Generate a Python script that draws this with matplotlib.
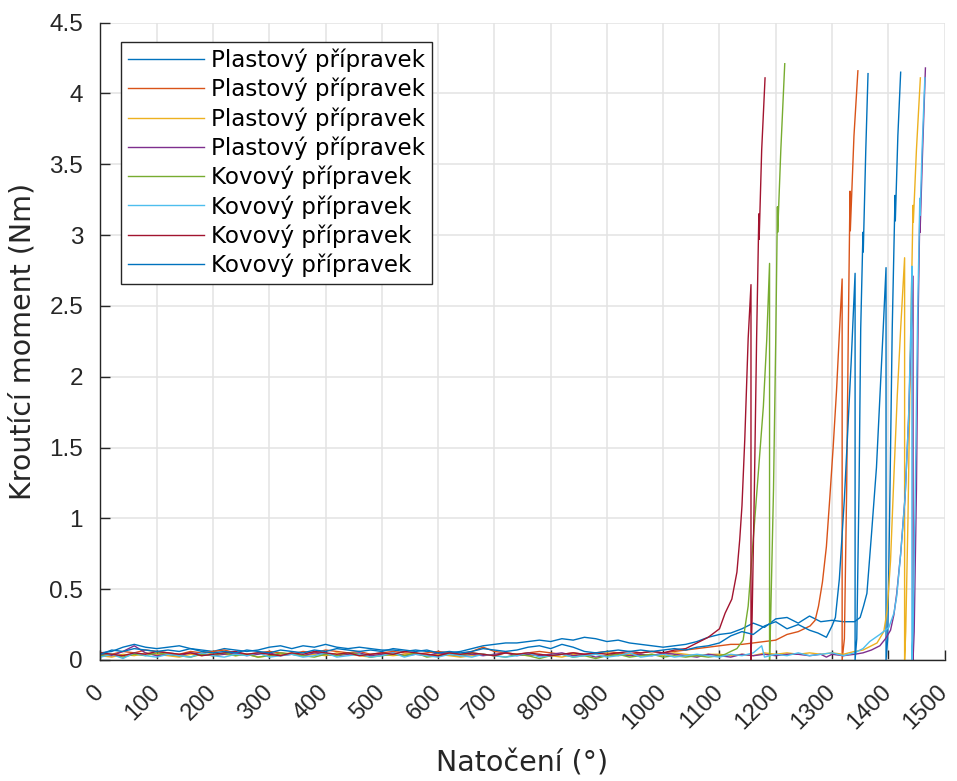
import matplotlib
matplotlib.use("Agg")
import matplotlib.pyplot as plt

# ---------------- data ----------------
legend_labels = ["Plastový přípravek", "Plastový přípravek", "Plastový přípravek", "Plastový přípravek",
                 "Kovový přípravek", "Kovový přípravek", "Kovový přípravek", "Kovový přípravek"]
series_colors = ["#0072BD", "#D95319", "#EDB120", "#7E2F8E", "#77AC30", "#4DBEEE", "#A2142F", "#0072BD"]

base_angle = [0, 20, 40, 60, 80, 100, 120, 140,
              160, 180, 200, 220, 240, 260, 280, 300,
              320, 340, 360, 380, 400, 420, 440, 460,
              480, 500, 520, 540, 560, 580, 600, 620,
              640, 660, 680, 700, 720, 740, 760, 780,
              800, 820, 840, 860, 880, 900, 920, 940,
              960, 980, 1000, 1020, 1040, 1060, 1080, 1100]

# Plastový 1 (blue)
p1_base = [0.05, 0.06, 0.09, 0.11, 0.09, 0.08, 0.09, 0.10,
           0.08, 0.07, 0.06, 0.08, 0.07, 0.06, 0.07, 0.09,
           0.10, 0.08, 0.10, 0.09, 0.11, 0.09, 0.08, 0.09,
           0.08, 0.07, 0.07, 0.06, 0.07, 0.06, 0.05, 0.05,
           0.06, 0.08, 0.10, 0.11, 0.12, 0.12, 0.13, 0.14,
           0.13, 0.15, 0.14, 0.16, 0.15, 0.13, 0.14, 0.12,
           0.11, 0.10, 0.09, 0.10, 0.11, 0.13, 0.16, 0.18]
p1_tail_x = [1120, 1140, 1160, 1180, 1200, 1220, 1240, 1260, 1280, 1300, 1320, 1340, 1350, 1356,
             1362, 1370, 1379, 1385, 1391, 1396, 1396, 1399, 1403, 1407, 1412, 1412.5, 1417, 1422]
p1_tail_y = [0.19, 0.22, 0.26, 0.23, 0.29, 0.30, 0.26, 0.31, 0.27, 0.28, 0.27, 0.27, 0.30, 0.38,
             0.47, 0.88, 1.36, 1.85, 2.34, 2.77, 0.0, 0.15, 1.2, 2.34, 3.28, 3.10, 3.7, 4.15]

# Plastový 2 (orange)
p2_base = [0.05, 0.04, 0.06, 0.05, 0.07, 0.06, 0.05, 0.04,
           0.06, 0.05, 0.06, 0.07, 0.05, 0.04, 0.05, 0.06,
           0.05, 0.04, 0.06, 0.05, 0.07, 0.06, 0.05, 0.06,
           0.04, 0.05, 0.06, 0.05, 0.04, 0.05, 0.06, 0.05,
           0.04, 0.06, 0.09, 0.06, 0.05, 0.04, 0.05, 0.06,
           0.05, 0.04, 0.05, 0.04, 0.05, 0.06, 0.05, 0.04,
           0.05, 0.06, 0.05, 0.06, 0.07, 0.08, 0.09, 0.10]
p2_tail_x = [1120, 1140, 1160, 1180, 1200, 1220, 1240, 1261, 1270, 1276, 1283, 1290, 1296, 1302,
             1308, 1313, 1318, 1318, 1322, 1326, 1329, 1332, 1332.5, 1339, 1346]
p2_tail_y = [0.11, 0.11, 0.12, 0.13, 0.14, 0.18, 0.20, 0.24, 0.28, 0.38, 0.55, 0.80, 1.14, 1.50,
             1.90, 2.30, 2.69, 0.0, 0.15, 1.2, 2.34, 3.31, 3.03, 3.7, 4.16]

# Plastový 3 (yellow)
p3_base = [0.03, 0.02, 0.04, 0.03, 0.05, 0.04, 0.03, 0.02,
           0.04, 0.03, 0.05, 0.04, 0.03, 0.04, 0.02, 0.03,
           0.04, 0.05, 0.03, 0.04, 0.03, 0.05, 0.04, 0.03,
           0.02, 0.04, 0.03, 0.04, 0.05, 0.03, 0.04, 0.03,
           0.02, 0.03, 0.04, 0.03, 0.05, 0.04, 0.03, 0.04,
           0.03, 0.02, 0.04, 0.03, 0.04, 0.05, 0.03, 0.04,
           0.03, 0.04, 0.03, 0.05, 0.04, 0.03, 0.04, 0.04]
p3_tail_x = [1120, 1140, 1160, 1180, 1200, 1220, 1240, 1260, 1280, 1300, 1320, 1340, 1355, 1370,
             1380, 1392, 1398, 1404, 1410, 1416, 1422, 1429, 1429, 1431, 1435, 1440, 1444, 1444.5,
             1450, 1457]
p3_tail_y = [0.03, 0.04, 0.03, 0.05, 0.04, 0.05, 0.04, 0.05, 0.04, 0.05, 0.04, 0.06, 0.07, 0.10,
             0.12, 0.20, 0.35, 0.70, 1.30, 1.87, 2.34, 2.84, 0.0, 0.2, 1.0, 2.34, 3.21, 3.09,
             3.6, 4.11]

# Plastový 4 (purple)
p4_base = [0.04, 0.03, 0.06, 0.10, 0.05, 0.03, 0.04, 0.03,
           0.05, 0.04, 0.03, 0.04, 0.05, 0.03, 0.04, 0.05,
           0.03, 0.04, 0.03, 0.05, 0.04, 0.03, 0.04, 0.05,
           0.03, 0.04, 0.05, 0.03, 0.04, 0.03, 0.05, 0.04,
           0.03, 0.04, 0.03, 0.04, 0.05, 0.03, 0.04, 0.03,
           0.04, 0.05, 0.03, 0.04, 0.02, 0.03, 0.04, 0.03,
           0.04, 0.03, 0.05, 0.04, 0.03, 0.02, 0.04, 0.03]
p4_tail_x = [1120, 1140, 1160, 1180, 1200, 1220, 1240, 1260, 1280, 1290, 1300, 1320, 1340, 1355,
             1370, 1385, 1395, 1404, 1410, 1415, 1422, 1430, 1436, 1441, 1444, 1444, 1446, 1450,
             1453, 1456, 1456.5, 1461, 1466]
p4_tail_y = [0.02, 0.04, 0.03, 0.04, 0.03, 0.04, 0.04, 0.03, 0.04, 0.02, 0.04, 0.03, 0.04, 0.05,
             0.07, 0.10, 0.15, 0.21, 0.32, 0.47, 0.75, 1.16, 1.70, 2.34, 2.71, 0.0, 0.2, 1.2,
             2.4, 3.14, 3.02, 3.6, 4.18]

# Kovový 1 (green)
k1_base = [0.03, 0.04, 0.02, 0.04, 0.03, 0.05, 0.04, 0.03,
           0.02, 0.04, 0.03, 0.05, 0.03, 0.04, 0.02, 0.03,
           0.05, 0.04, 0.03, 0.02, 0.04, 0.03, 0.05, 0.04,
           0.02, 0.03, 0.04, 0.03, 0.05, 0.02, 0.03, 0.04,
           0.03, 0.05, 0.04, 0.03, 0.02, 0.04, 0.03, 0.01,
           0.03, 0.04, 0.02, 0.03, 0.01, 0.03, 0.04, 0.02,
           0.03, 0.04, 0.02, 0.03, 0.02, 0.03, 0.02, 0.03]
k1_tail_x = [1110, 1120, 1131, 1142, 1151, 1160, 1169, 1178, 1184, 1189, 1189, 1191, 1196, 1200,
             1203, 1203.5, 1209, 1216]
k1_tail_y = [0.04, 0.06, 0.08, 0.14, 0.38, 0.85, 1.32, 1.79, 2.26, 2.80, 0.0, 0.3, 1.2, 2.26,
             3.20, 3.02, 3.6, 4.21]

# Kovový 2 (light blue)
k2_base = [0.02, 0.04, 0.01, 0.05, 0.03, 0.02, 0.04, 0.03,
           0.02, 0.05, 0.03, 0.02, 0.04, 0.03, 0.05, 0.02,
           0.03, 0.04, 0.02, 0.03, 0.05, 0.02, 0.03, 0.04,
           0.02, 0.03, 0.05, 0.02, 0.04, 0.03, 0.02, 0.04,
           0.03, 0.02, 0.04, 0.03, 0.02, 0.03, 0.05, 0.02,
           0.03, 0.04, 0.02, 0.03, 0.04, 0.02, 0.03, 0.05,
           0.02, 0.03, 0.04, 0.02, 0.03, 0.04, 0.03, 0.02]
k2_tail_x = [1120, 1140, 1160, 1175, 1180, 1200, 1220, 1240, 1260, 1280, 1300, 1320, 1340, 1355,
             1367, 1385, 1401, 1410, 1415, 1422, 1430, 1436, 1440, 1442, 1442, 1444, 1448, 1452,
             1456, 1456.5, 1460, 1465]
k2_tail_y = [0.04, 0.03, 0.05, 0.10, 0.02, 0.04, 0.03, 0.05, 0.03, 0.04, 0.05, 0.03, 0.05, 0.08,
             0.13, 0.18, 0.23, 0.33, 0.45, 0.75, 1.16, 1.70, 2.34, 2.78, 0.0, 0.2, 1.2, 2.4,
             3.26, 3.14, 3.6, 4.11]

# Kovový 3 (dark red)
k3_base = [0.05, 0.04, 0.03, 0.05, 0.04, 0.06, 0.05, 0.04,
           0.05, 0.03, 0.04, 0.05, 0.06, 0.04, 0.05, 0.04,
           0.03, 0.05, 0.04, 0.06, 0.05, 0.04, 0.05, 0.03,
           0.04, 0.05, 0.04, 0.06, 0.05, 0.04, 0.03, 0.05,
           0.04, 0.05, 0.04, 0.03, 0.05, 0.04, 0.05, 0.04,
           0.03, 0.04, 0.05, 0.04, 0.05, 0.04, 0.05, 0.06,
           0.05, 0.06, 0.05, 0.07, 0.08, 0.12, 0.16, 0.22]
k3_tail_x = [1110, 1122, 1131, 1136, 1140, 1145, 1151, 1156, 1156, 1158, 1162, 1166, 1170, 1170.5,
             1175, 1181]
k3_tail_y = [0.33, 0.43, 0.62, 0.85, 1.09, 1.56, 2.27, 2.65, 0.0, 0.3, 1.2, 2.27, 3.15, 2.97,
             3.6, 4.11]

# Kovový 4 (blue)
k4_base = [0.04, 0.07, 0.06, 0.08, 0.07, 0.06, 0.07, 0.06,
           0.08, 0.06, 0.05, 0.06, 0.05, 0.07, 0.06, 0.05,
           0.07, 0.06, 0.05, 0.07, 0.06, 0.08, 0.07, 0.06,
           0.07, 0.06, 0.08, 0.07, 0.06, 0.07, 0.05, 0.06,
           0.05, 0.06, 0.08, 0.07, 0.06, 0.07, 0.09, 0.10,
           0.08, 0.11, 0.09, 0.06, 0.05, 0.06, 0.07, 0.06,
           0.07, 0.06, 0.07, 0.08, 0.07, 0.09, 0.10, 0.12]
k4_tail_x = [1120, 1140, 1160, 1180, 1200, 1220, 1240, 1260, 1275, 1290, 1300, 1306, 1313, 1322,
             1328, 1334, 1341, 1341, 1344, 1348, 1351, 1355, 1355.5, 1360, 1364]
k4_tail_y = [0.17, 0.20, 0.18, 0.24, 0.27, 0.22, 0.25, 0.21, 0.19, 0.16, 0.24, 0.30, 0.57, 1.14,
             1.62, 2.10, 2.73, 0.0, 0.15, 1.2, 2.34, 3.02, 2.88, 3.6, 4.14]

x_ticks = [0, 100, 200, 300, 400, 500, 600, 700, 800, 900, 1000, 1100, 1200, 1300, 1400, 1500]
x_tick_labels = ["0", "100", "200", "300", "400", "500", "600", "700", "800", "900", "1000",
                 "1100", "1200", "1300", "1400", "1500"]
y_ticks = [0, 0.5, 1, 1.5, 2, 2.5, 3, 3.5, 4, 4.5]
y_tick_labels = ["0", "0.5", "1", "1.5", "2", "2.5", "3", "3.5", "4", "4.5"]
x_label = "Natočení (°)"
y_label = "Kroutící moment (Nm)"

# ---------------- plot ----------------
series = [
    (p1_base, p1_tail_x, p1_tail_y),
    (p2_base, p2_tail_x, p2_tail_y),
    (p3_base, p3_tail_x, p3_tail_y),
    (p4_base, p4_tail_x, p4_tail_y),
    (k1_base, k1_tail_x, k1_tail_y),
    (k2_base, k2_tail_x, k2_tail_y),
    (k3_base, k3_tail_x, k3_tail_y),
    (k4_base, k4_tail_x, k4_tail_y),
]

plt.rcParams['font.family'] = ['DejaVu Sans']
fig = plt.figure(figsize=(9.57, 7.81), dpi=100)
ax = fig.add_axes([0.105, 0.155, 0.882, 0.816])

for (base, tx, ty), col, lab in zip(series, series_colors, legend_labels):
    ax.plot(base_angle + tx, base + ty, color=col, lw=1.0, label=lab)

ax.set_xlim(0, 1500)
ax.set_ylim(0, 4.5)
ax.set_xticks(x_ticks)
ax.set_yticks(y_ticks)
ax.set_xticklabels(x_tick_labels)
ax.set_yticklabels(y_tick_labels)
ax.tick_params(axis='both', direction='in', length=7, width=1, colors='#262626', labelsize=17)
ax.tick_params(axis='y', pad=12.5)
ax.tick_params(axis='x', pad=21)
for lbl in ax.get_yticklabels():
    lbl.set_fontfamily(['Liberation Sans'])
    lbl.set_fontsize(17.5)
for lbl in ax.get_xticklabels():
    lbl.set_fontfamily(['Liberation Sans'])
    lbl.set_fontsize(17)
    lbl.set_rotation(45)
    lbl.set_ha('right')
    lbl.set_va('center')
    lbl.set_rotation_mode('anchor')

ax.grid(True, color='#e3e3e3', lw=1.1)
ax.set_axisbelow(True)
for s in ['top', 'right']:
    ax.spines[s].set_visible(False)
for s in ['left', 'bottom']:
    ax.spines[s].set_color('#262626')
    ax.spines[s].set_linewidth(1.0)

ax.set_xlabel(x_label, fontsize=20.5, color='#262626')
ax.set_ylabel(y_label, fontsize=20.5, color='#262626')
ax.xaxis.set_label_coords(0.5, -0.14)
ax.yaxis.set_label_coords(-0.076, 0.5)

leg = ax.legend(loc='upper left', bbox_to_anchor=(0.024, 0.970), borderaxespad=0,
                fontsize=16.6, frameon=True, fancybox=False, shadow=False,
                labelspacing=0.25, handlelength=3.3, handletextpad=0.3, borderpad=0.3)
leg.get_frame().set_edgecolor('#262626')
leg.get_frame().set_linewidth(1.0)
leg.get_frame().set_alpha(1.0)

fig.savefig("out.png", dpi=100)
